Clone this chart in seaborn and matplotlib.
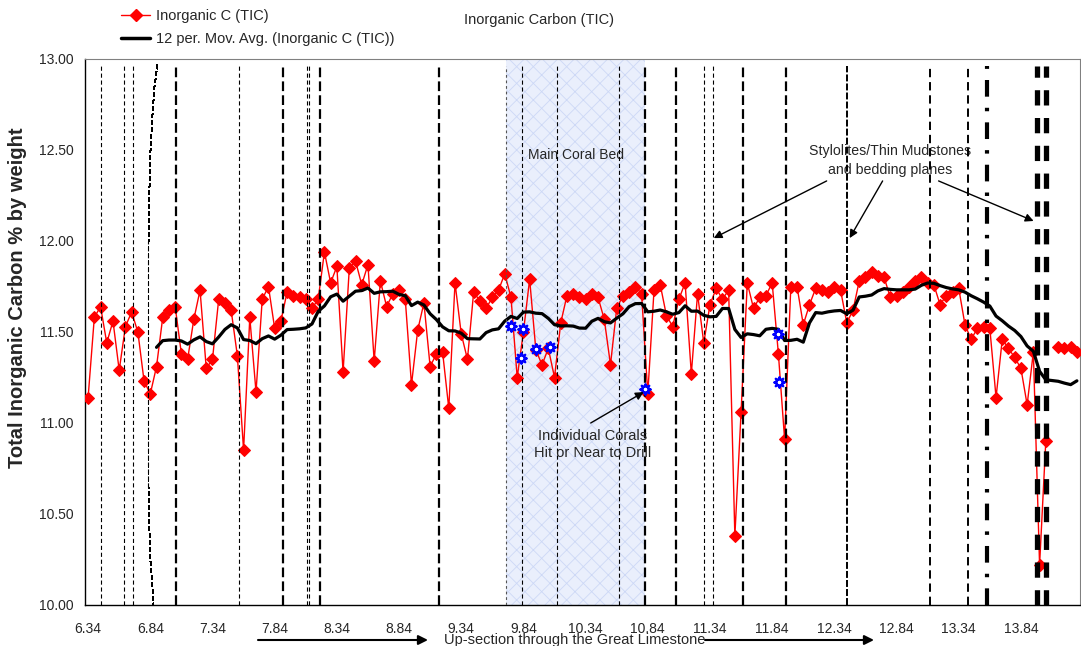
import numpy as np
import pandas as pd
import matplotlib
matplotlib.use("Agg")
import matplotlib.pyplot as plt
from matplotlib.lines import Line2D
from matplotlib.patches import FancyArrowPatch
import seaborn as sns

# ---------------- data ----------------
tic = [11.14, 11.58, 11.64, 11.44, 11.56, 11.29, 11.53, 11.61, 11.50, 11.23,
       11.16, 11.31, 11.58, 11.62, 11.64, 11.38, 11.35, 11.57, 11.73, 11.30,
       11.35, 11.68, 11.66, 11.62, 11.37, 10.85, 11.58, 11.17, 11.68, 11.75,
       11.52, 11.56, 11.72, 11.70, 11.69, 11.68, 11.63, 11.68, 11.94, 11.77,
       11.86, 11.28, 11.85, 11.89, 11.76, 11.87, 11.34, 11.78, 11.64, 11.71,
       11.73, 11.68, 11.21, 11.51, 11.66, 11.31, 11.38, 11.39, 11.08, 11.77,
       11.49, 11.35, 11.72, 11.67, 11.63, 11.69, 11.73, 11.82, 11.69, 11.25,
       11.50, 11.79, 11.40, 11.32, 11.41, 11.25, 11.55, 11.70, 11.71, 11.69,
       11.68, 11.71, 11.69, 11.57, 11.32, 11.63, 11.70, 11.72, 11.75, 11.71,
       11.16, 11.73, 11.76, 11.59, 11.53, 11.68, 11.77, 11.27, 11.71, 11.44,
       11.65, 11.74, 11.68, 11.73, 10.38, 11.06, 11.77, 11.63, 11.69, 11.70,
       11.77, 11.38, 10.91, 11.75, 11.75, 11.54, 11.65, 11.74, 11.73, 11.72,
       11.75, 11.73, 11.55, 11.62, 11.78, 11.80, 11.83, 11.81, 11.80, 11.69,
       11.70, 11.72, 11.75, 11.78, 11.80, 11.77, 11.76, 11.65, 11.70, 11.72,
       11.74, 11.54, 11.46, 11.52, 11.53, 11.52, 11.14, 11.46, 11.41, 11.36,
       11.30, 11.10, 11.39, 10.22, 10.90, np.nan, 11.42, 11.41, 11.42, 11.39]
depth = np.round(np.linspace(6.34, 14.29, len(tic)), 2)

tick_labels = ["6.34", "6.84", "7.34", "7.84", "8.34", "8.84", "9.34", "9.84",
               "10.34", "10.84", "11.34", "11.84", "12.34", "12.84", "13.34", "13.84"]

coral_depth = [9.744, 9.818, 9.840, 9.945, 10.054, 10.815, 11.887, 11.892]
coral_tic = [11.533, 11.359, 11.515, 11.405, 11.419, 11.187, 11.489, 11.227]

# vertical marker lines (depth positions)
thin_lines = [6.442, 6.629, 6.702, 7.554, 8.098, 8.120, 9.832, 10.113, 10.608, 11.292, 11.364]
grey_dotted = [9.698]
thick_lines = [7.047, 7.905, 8.203, 9.162, 10.815, 11.070, 11.605, 11.954]
medium_lines = [13.109, 13.414]
bracket_lines = [12.444]
dashdot_lines = [13.564]
double_lines = [13.972, 14.044]
curve_depth = [6.892, 6.872, 6.852, 6.838, 6.830, 6.820, 6.820, 6.830, 6.840, 6.850, 6.858]
curve_val = [12.97, 12.85, 12.70, 12.50, 12.30, 12.00, 10.65, 10.40, 10.24, 10.10, 10.00]
coral_bed = (9.698, 10.815)

# ---------------- style ----------------
sns.set_style("white")
plt.rcParams["font.family"] = ["Liberation Sans", "DejaVu Sans"]
plt.rcParams["lines.scale_dashes"] = False
plt.rcParams["path.simplify"] = False
plt.rcParams["hatch.color"] = "#cdd8f6"
plt.rcParams["hatch.linewidth"] = 0.6

W, H = 1081, 646
fig = plt.figure(figsize=(W / 100, H / 100), dpi=100)
ax = fig.add_axes([85 / W, 1 - 605 / H, 995 / W, 546 / H])

df = pd.DataFrame({"depth": depth, "tic": tic})
df["seg"] = df["tic"].isna().cumsum()
clean = df.dropna().copy()
clean["ma"] = clean["tic"].rolling(12).mean()

# shaded coral bed
ax.axvspan(coral_bed[0], coral_bed[1], facecolor="#eaeffc", edgecolor="#cdd8f6",
           hatch="xx", lw=0, zorder=0)

# data
sns.lineplot(data=clean, x="depth", y="tic", units="seg", estimator=None,
             color="#ff0000", lw=1.0, marker="D", markersize=5.8,
             markeredgecolor="#ff0000", ax=ax, zorder=3, legend=False)
sns.lineplot(data=clean.dropna(), x="depth", y="ma", color="black", lw=2.3,
             ax=ax, zorder=4, legend=False)

# vertical lines
top = 12.96
ax.vlines(thin_lines, 10, top, colors="black", lw=0.8, linestyles=[(0, (3, 2))], zorder=5)
ax.vlines(grey_dotted, 10, top, colors="#555555", lw=0.8, linestyles=[(0, (2, 2))], zorder=5)
ax.vlines(thick_lines, 10, top, colors="black", lw=1.6, linestyles=[(0, (7, 3))], zorder=5)
ax.vlines(medium_lines, 10, top, colors="black", lw=1.4, linestyles=[(0, (6, 3.5))], zorder=5)
ax.vlines(bracket_lines, 10, top, colors="black", lw=1.4, linestyles=[(0, (5, 1.5))], zorder=5)
ax.vlines(dashdot_lines, 10, top, colors="black", lw=3.0, linestyles=[(0, (12, 8, 2.5, 8))], zorder=5)
ax.vlines(double_lines, 10, top, colors="black", lw=3.8, linestyles=[(0, (11, 9))], zorder=5)
# curved thin dashed marker: curved ends plus straight middle part
ax.plot(curve_depth, curve_val, color="black", lw=0.9, ls=(0, (3, 2)), zorder=6,
        snap=True, antialiased=False)
ax.vlines([curve_depth[5]], curve_val[6], curve_val[5], colors="black", lw=0.8,
          linestyles=[(0, (3, 2))], zorder=6)

# coral markers
sns.scatterplot(x=coral_depth, y=coral_tic, marker=(8, 1, 0), s=60,
                facecolor="white", edgecolor="#0000ff", linewidth=1.6,
                ax=ax, zorder=7)

# axes
ax.set_xlim(6.315, 14.315)
ax.set_ylim(10, 13)
ax.set_yticks(np.arange(10, 13.01, 0.5))
ax.set_yticklabels([f"{v:.2f}" for v in np.arange(10, 13.01, 0.5)])
ax.set_xticks([float(t) for t in tick_labels])
ax.set_xticklabels(tick_labels)
ax.set_xticks(np.arange(6.315, 14.32, 0.5), minor=True)
ax.tick_params(axis="x", which="major", length=0, pad=12, labelsize=10)
ax.tick_params(axis="x", which="minor", length=5, width=1, direction="out", color="black")
ax.tick_params(axis="y", which="major", length=5, width=1, direction="out", pad=3,
               labelsize=10, color="black")
for s in ["left", "bottom"]:
    ax.spines[s].set_color("black")
    ax.spines[s].set_linewidth(1.0)
for s in ["top", "right"]:
    ax.spines[s].set_color("#808080")
    ax.spines[s].set_linewidth(0.8)
ax.set_xlabel("")
ax.set_ylabel("Total Inorganic Carbon % by weight", fontsize=14.5, fontweight="bold")
ax.yaxis.set_label_coords(-0.058, 0.562)

# annotations
ax.text(10.26, 12.47, "Main Coral Bed", ha="center", va="center", fontsize=10)
ax.text(12.79, 12.44, "Stylolites/Thin Mudstones\nand bedding planes", ha="center",
        va="center", fontsize=10.2, linespacing=1.45)
arrow = dict(arrowstyle="-|>", color="black", lw=1.0, mutation_scale=12, shrinkA=0, shrinkB=0)
ax.annotate("", xy=(11.370, 12.016), xytext=(12.278, 12.33), arrowprops=arrow, zorder=8)
ax.annotate("", xy=(12.463, 12.016), xytext=(12.728, 12.33), arrowprops=arrow, zorder=8)
ax.annotate("", xy=(13.942, 12.11), xytext=(13.178, 12.33), arrowprops=arrow, zorder=8)
ax.text(10.397, 10.88, "Individual Corals\nHit or Near to Drill", ha="center",
        va="center", fontsize=10.5, linespacing=1.3, zorder=8)
ax.annotate("", xy=(10.807, 11.17), xytext=(10.381, 11.0), arrowprops=arrow, zorder=8)

# figure texts
fig.text(539 / W, 1 - 20 / H, "Inorganic Carbon (TIC)", ha="center", va="center", fontsize=10.5)
fig.text(575 / W, 1 - 640 / H, "Up-section through the Great Limestone", ha="center",
         va="center", fontsize=10.5)
for x0, x1 in [(258, 428), (705, 874)]:
    fig.add_artist(FancyArrowPatch((x0 / W, 1 - 640 / H), (x1 / W, 1 - 640 / H),
                                   transform=fig.transFigure, arrowstyle="-|>",
                                   color="black", lw=1.5, mutation_scale=14,
                                   shrinkA=0, shrinkB=0))

handles = [Line2D([], [], color="#ff0000", lw=1.0, marker="D", markersize=5.8),
           Line2D([], [], color="black", lw=2.5)]
fig.legend(handles, ["Inorganic C (TIC)", "12 per. Mov. Avg. (Inorganic C (TIC))"],
           loc="upper left", bbox_to_anchor=(121 / W, 1 - 9 / H), frameon=False,
           fontsize=10.5, handlelength=2.0, handletextpad=0.4, labelspacing=0.6,
           borderpad=0, borderaxespad=0)

fig.savefig("out.png", dpi=100)
